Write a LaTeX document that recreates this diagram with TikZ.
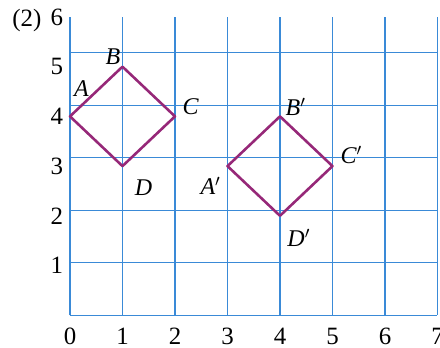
\documentclass[tikz,border=0pt]{standalone}
\usepackage{fontspec}
\setmainfont{Liberation Serif}
\usepackage{xcolor}
\usepackage{tikz}
\usetikzlibrary{positioning}
\definecolor{gridblue}{RGB}{58,138,215}
\definecolor{squarepurple}{RGB}{150,40,120}
\tikzset{
  gridline/.style={gridblue,line width=0.6pt},
  squareline/.style={squarepurple,line width=1.4pt,line join=round},
  ptlabel/.style={font=\fontsize{13}{15}\selectfont\itshape,inner sep=0pt},
  ticklabel/.style={font=\fontsize{13.5}{15}\selectfont,inner sep=0pt}
}

\begin{document}
\begin{tikzpicture}[x=1cm,y=0.9467cm]
\useasboundingbox (-1.333,-0.644) rectangle (7.048,6.342);
\draw[gridline] (0,0) grid (7,6);
\foreach \x in {0,...,7}{
  \node[ticklabel] (xt\x) at (\x,-0.42) {\x};}
\foreach \y in {1,...,6}{
  \node[ticklabel] (yt\y) at (-0.25,\y) {\y};}
\node[ticklabel] (part) at (-0.82,5.93) {(2)};
% original square
\coordinate (A) at (0,4);
\coordinate (B) at (1,5);
\coordinate (C) at (2,4);
\coordinate (D) at (1,3);
\draw[squareline] (A) -- (B) -- (C) -- (D) -- cycle;
% translated square
\coordinate (A') at (3,3);
\coordinate (B') at (4,4);
\coordinate (C') at (5,3);
\coordinate (D') at (4,2);
\draw[squareline] (A') -- (B') -- (C') -- (D') -- cycle;
\node[ptlabel] (lA) at (0.22,4.56) {A};
\node[ptlabel] (lB) at (0.82,5.2) {B};
\node[ptlabel] (lC) at (2.3,4.2) {C};
\node[ptlabel] (lD) at (1.4,2.56) {D};
\node[ptlabel] (lA') at (2.68,2.6) {A$'$};
\node[ptlabel] (lB') at (4.3,4.2) {B$'$};
\node[ptlabel] (lC') at (5.36,3.22) {C$'$};
\node[ptlabel] (lD') at (4.36,1.55) {D$'$};
\end{tikzpicture}
\end{document}
